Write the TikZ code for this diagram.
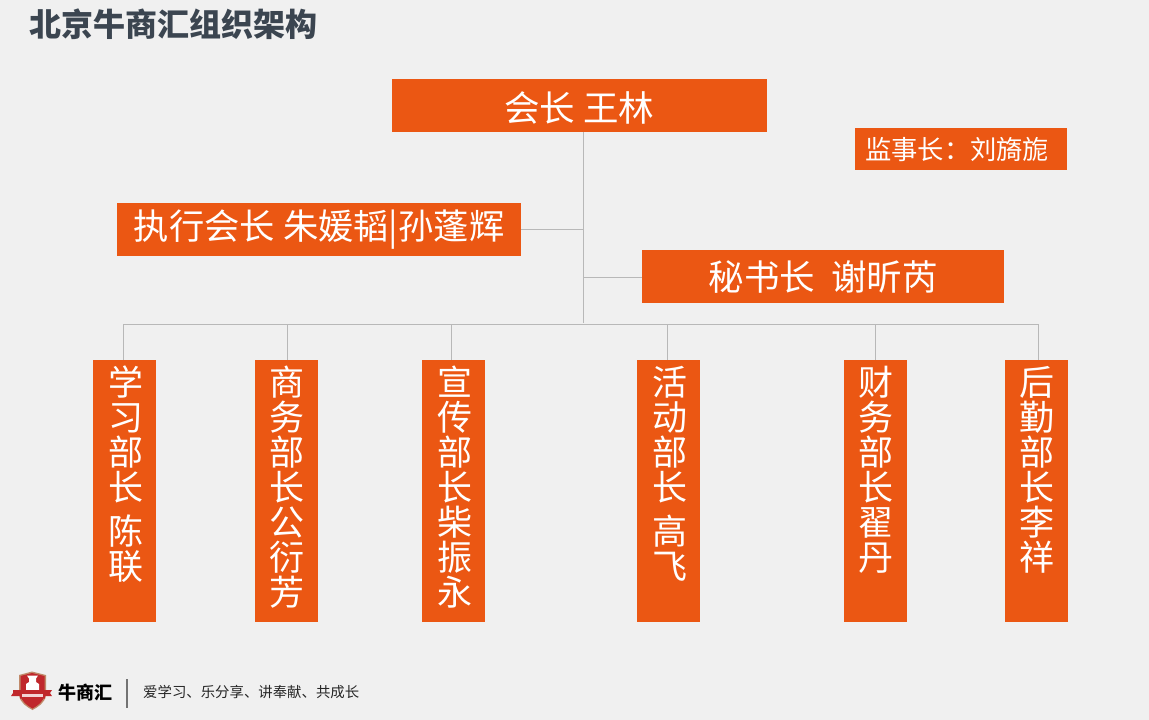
\documentclass[tikz,border=0pt]{standalone}
\usepackage{fontspec}
\setmainfont{Noto Sans CJK SC}
\definecolor{bgc}{HTML}{F0F0F0}
\definecolor{org}{HTML}{EB5713}
\definecolor{linec}{HTML}{B8B8B8}
\definecolor{titlec}{HTML}{3B4550}
\definecolor{shield}{HTML}{C0282C}
\definecolor{shieldrim}{HTML}{C08A6A}
\tikzset{
  box/.style={fill=org,text=white,inner sep=0pt,anchor=north west},
  hbox/.style={box,font=\fontsize{#1}{#1}\selectfont,align=center},
  vbox/.style={box,minimum width=63pt,minimum height=262pt,text width=63pt,align=center,
    font=\fontsize{35}{35}\selectfont},
  conn/.style={draw=linec,line width=1pt},
}
\newcommand{\vcol}[1]{\parbox[t][262pt][t]{65pt}{\centering\vspace*{6pt}#1}}
\begin{document}
\begin{tikzpicture}[x=1pt,y=-1pt]
\fill[bgc] (0,0) rectangle (1149,720);
\useasboundingbox (0,0) rectangle (1149,720);
\node[anchor=west,text=titlec,inner sep=0pt,font=\fontsize{32}{32}\bfseries\selectfont] (title) at (29,24) {北京牛商汇组织架构};
% top boxes
\node[hbox=35.5,minimum width=375pt,minimum height=53pt,text depth=0pt] (pres) at (392,79) {\raisebox{-2.5pt}{\hspace*{-1pt}会长 王林}};
\node[hbox=26.3,minimum width=212pt,minimum height=42pt] (sup) at (855,128) {\raisebox{-1pt}{\hspace*{-8pt}监事长：刘旖旎}};
\node[hbox=35.3,minimum width=404pt,minimum height=53pt] (exec) at (117,203) {\raisebox{-2.5pt}{执行会长 朱媛韬|孙蓬辉}};
\node[hbox=35.5,minimum width=362pt,minimum height=53pt] (sec) at (642,250) {\raisebox{-2pt}{秘书长\ \ 谢昕芮}};
% department boxes
\node[vbox] (d1) at (93,360) {\vcol{学\\习\\部\\长\\[9pt]陈\\联}};
\node[vbox] (d2) at (254.5,360) {\vcol{商\\务\\部\\长\\公\\衍\\芳}};
\node[vbox] (d3) at (422,360) {\vcol{宣\\传\\部\\长\\柴\\振\\永}};
\node[vbox] (d4) at (637,360) {\vcol{活\\动\\部\\长\\[9pt]高\\飞}};
\node[vbox] (d5) at (843.5,360) {\vcol{财\\务\\部\\长\\翟\\丹}};
\node[vbox] (d6) at (1004.5,360) {\vcol{后\\勤\\部\\长\\李\\祥}};
% connectors
\coordinate (spine) at (583,323);
\coordinate (busL) at (123,324);
\coordinate (busR) at (1038,324);
\coordinate (b1) at (123,324);
\coordinate (b2) at (287,324);
\coordinate (b3) at (451,324);
\coordinate (b4) at (667,324);
\coordinate (b5) at (875,324);
\coordinate (b6) at (1038,324);
\draw[conn] (pres.south -| spine) -- (spine);
\draw[conn] (busL) -- (busR);
\draw[conn] (exec.east) -- (exec.east -| spine);
\draw[conn] ([yshift=-1pt]sec.west) -- ([yshift=-1pt]sec.west -| spine);
\foreach \i in {1,...,6} \draw[conn] (b\i) -- (b\i |- d\i.north);
% footer logo
\begin{scope}
\fill[shieldrim] (19,675) -- (32,671.5) -- (46,675) -- (46,695) .. controls (45,703) and (38,707) .. (32.5,710) .. controls (27,707) and (20,703) .. (19,695) -- cycle;
\fill[shield] (20.5,676) -- (32,673) -- (44.5,676) -- (44.5,695) .. controls (43.5,702) and (37,706) .. (32.5,708.5) .. controls (28,706) and (21.5,702) .. (20.5,695) -- cycle;
\fill[white] (27,675.5) -- (38,675.5) -- (36,678.5) -- (36,682) -- (39,684) -- (39,690) -- (26,690) -- (26,684) -- (29,682) -- (29,678.5) -- cycle;
\fill[shield] (13,690) -- (52,690) -- (50,693) -- (52,696) -- (45,696) -- (45,698.5) -- (20,698.5) -- (20,696) -- (11,696) -- (13,693) -- cycle;
\fill[white!80!shield] (22,694) rectangle (43,697);
\end{scope}
\node[anchor=west,inner sep=0pt,text=black,font=\fontsize{18}{18}\bfseries\selectfont] (brand) at (58,693) {牛商汇};
\coordinate (barT) at (127,679);
\coordinate (barB) at (127,708);
\draw[draw=black!55,line width=1.4pt] (barT) -- (barB);
\node[anchor=west,inner sep=0pt,text=black!85,font=\fontsize{14.4}{15}\selectfont] (motto) at (143,692.5) {爱学习、乐分享、讲奉献、共成长};
\end{tikzpicture}
\end{document}
